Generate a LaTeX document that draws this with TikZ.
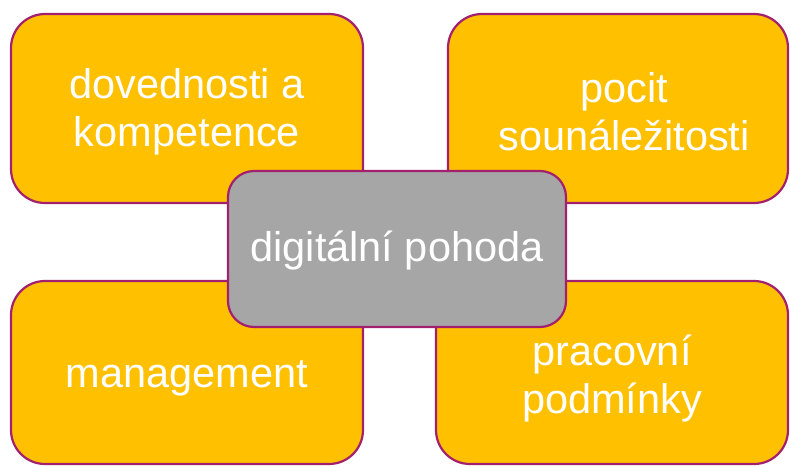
\documentclass[tikz,border=0pt]{standalone}
\usepackage{fontspec}
\setmainfont{Liberation Sans}
\definecolor{boxorange}{HTML}{FFC000}
\definecolor{boxedge}{HTML}{A3206E}
\definecolor{hubgray}{HTML}{A6A6A6}
\begin{document}
\begin{tikzpicture}[x=1pt,y=-1pt,
  outerbox/.style={draw=boxedge, line width=2.2pt, fill=boxorange, rounded corners=34pt},
  hubbox/.style={draw=boxedge, line width=2.2pt, fill=hubgray, rounded corners=26pt},
  caption/.style={text=white, align=center, font=\fontsize{41.5}{48}\selectfont, inner sep=0pt}]
\useasboundingbox (0,0) rectangle (790,466);
% four surrounding topics
\draw[outerbox] (11,14) rectangle (363,203);
\draw[outerbox] (448,14) rectangle (788,203);
\draw[outerbox] (11,281) rectangle (363,464);
\draw[outerbox] (436,281) rectangle (788,464);
\node[caption] (skills) at (187,112) {dovednosti a\\kompetence};
\node[caption] (belong) at (624,112) {pocit\\sounáležitosti};
\node[caption] (mgmt) at (187,378) {management};
\node[caption] (work) at (612,379) {pracovní\\podmínky};
% central topic
\draw[hubbox] (228,171) rectangle (566,327);
\node[caption] (hub) at (397,251) {digitální pohoda};
\end{tikzpicture}
\end{document}
